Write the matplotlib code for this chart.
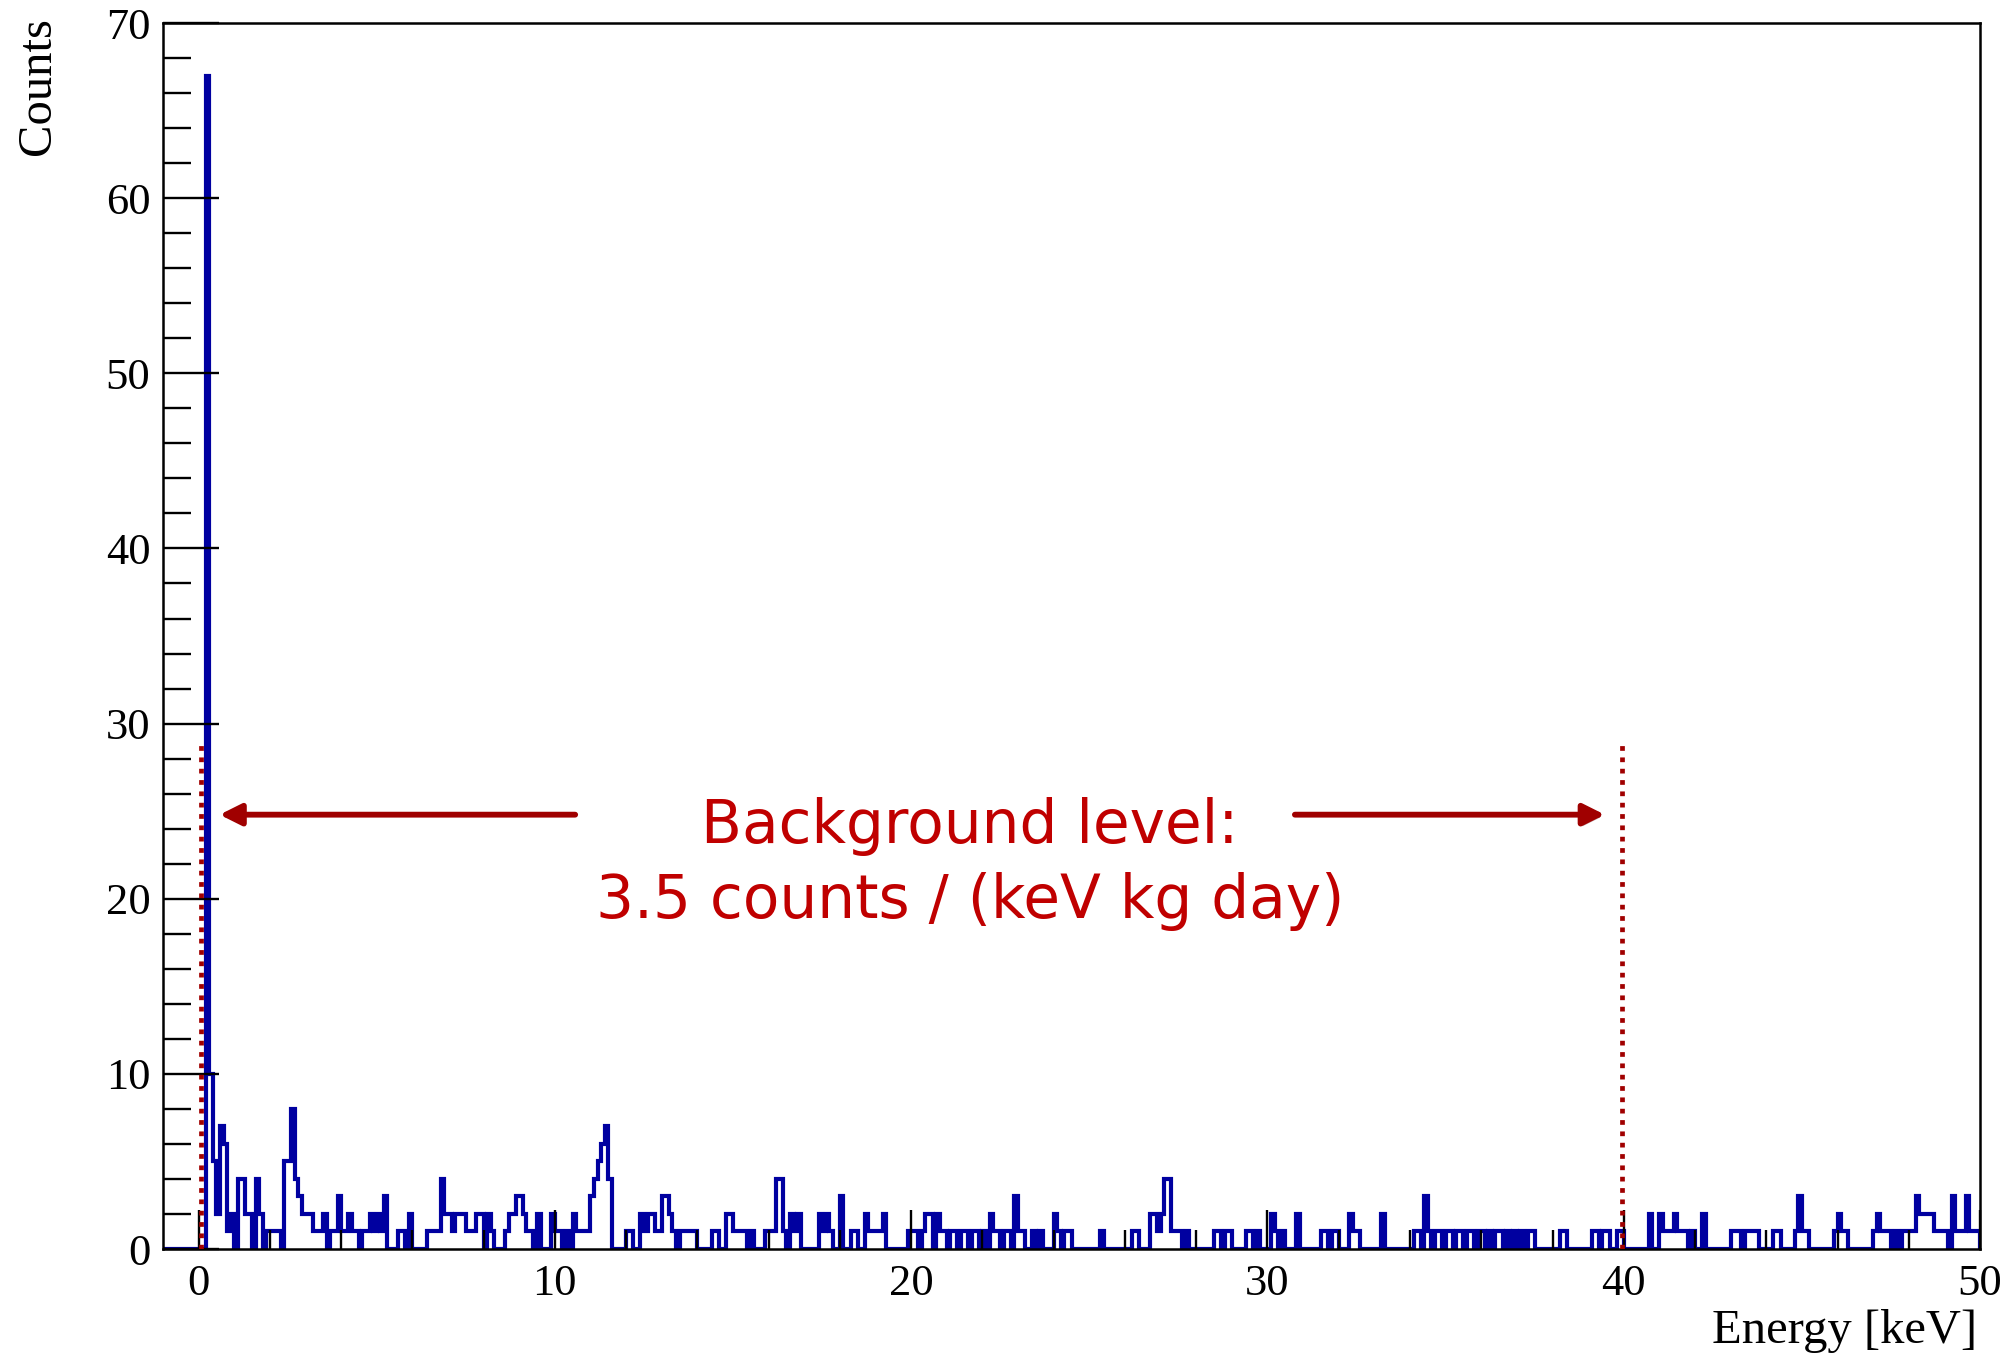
import numpy as np
import matplotlib.pyplot as plt
from matplotlib.ticker import MultipleLocator
import matplotlib.patheffects as pe

# counts per 0.1 keV bin, one list per 10 keV
counts_0_10 = [
    0, 0, 67, 10, 5, 2, 7, 6, 1, 2,
    0, 4, 4, 2, 2, 0, 4, 2, 0, 1,
    1, 1, 1, 0, 5, 5, 8, 4, 3, 2,
    2, 2, 1, 1, 1, 2, 0, 1, 1, 3,
    1, 1, 2, 1, 1, 0, 1, 1, 2, 1,
    2, 1, 3, 0, 0, 0, 1, 1, 0, 2,
    0, 0, 0, 0, 1, 1, 1, 1, 4, 2,
    2, 1, 2, 2, 2, 1, 1, 1, 2, 2,
    0, 2, 1, 0, 0, 0, 1, 2, 2, 3,
    3, 2, 1, 1, 0, 2, 0, 0, 0, 2,
]
counts_10_20 = [
    1, 1, 0, 1, 0, 2, 1, 1, 1, 1,
    3, 4, 5, 6, 7, 4, 0, 0, 0, 0,
    1, 1, 0, 0, 2, 1, 2, 2, 1, 1,
    3, 3, 2, 1, 0, 1, 1, 1, 1, 1,
    0, 0, 0, 0, 1, 1, 0, 0, 2, 2,
    1, 1, 1, 1, 0, 1, 0, 0, 0, 1,
    1, 1, 4, 4, 1, 0, 2, 1, 2, 0,
    0, 0, 0, 0, 2, 1, 2, 1, 0, 0,
    3, 0, 0, 1, 1, 0, 0, 2, 1, 1,
    1, 1, 2, 0, 0, 0, 0, 0, 0, 1,
]
counts_20_30 = [
    1, 1, 0, 1, 2, 2, 0, 2, 1, 1,
    0, 1, 1, 0, 1, 1, 0, 1, 1, 0,
    1, 0, 2, 1, 1, 0, 1, 1, 0, 3,
    1, 1, 0, 0, 1, 0, 1, 0, 0, 0,
    2, 1, 0, 1, 1, 0, 0, 0, 0, 0,
    0, 0, 0, 1, 0, 0, 0, 0, 0, 0,
    0, 0, 1, 1, 0, 0, 0, 2, 2, 1,
    2, 4, 4, 1, 1, 1, 0, 1, 0, 0,
    0, 0, 0, 0, 0, 1, 1, 0, 1, 1,
    0, 0, 0, 0, 1, 1, 0, 1, 0, 0,
]
counts_30_40 = [
    0, 2, 1, 0, 1, 0, 0, 0, 2, 0,
    0, 0, 0, 0, 0, 1, 1, 0, 1, 1,
    0, 0, 0, 2, 1, 1, 0, 0, 0, 0,
    0, 0, 2, 0, 0, 0, 0, 0, 0, 0,
    0, 1, 1, 0, 3, 1, 0, 1, 1, 0,
    1, 1, 0, 1, 1, 0, 1, 1, 0, 1,
    1, 0, 1, 0, 1, 1, 0, 1, 0, 1,
    0, 1, 0, 1, 1, 0, 0, 0, 0, 0,
    0, 0, 1, 1, 0, 0, 0, 0, 0, 0,
    0, 1, 1, 0, 1, 1, 0, 0, 1, 1,
]
counts_40_50 = [
    0, 0, 0, 0, 0, 0, 0, 2, 0, 0,
    2, 1, 1, 1, 2, 1, 1, 1, 0, 1,
    0, 0, 2, 0, 0, 0, 0, 0, 0, 0,
    1, 1, 1, 0, 1, 1, 1, 1, 0, 0,
    0, 0, 1, 1, 0, 0, 0, 0, 1, 3,
    1, 1, 0, 0, 0, 0, 0, 0, 0, 1,
    2, 1, 1, 0, 0, 0, 0, 0, 0, 0,
    1, 2, 1, 1, 1, 0, 1, 0, 1, 1,
    1, 1, 3, 2, 2, 2, 2, 1, 1, 1,
    1, 0, 3, 1, 1, 1, 3, 1, 1, 1,
]

bin_width = 0.1
x_min, x_max = -1, 50
counts = np.array([0] * 10 + counts_0_10 + counts_10_20 + counts_20_30
                  + counts_30_40 + counts_40_50)
edges = np.round(x_min + bin_width * np.arange(len(counts) + 1), 2)

window = (0.06, 39.94)       # keV, dotted markers
window_top = 29
bkg_text = 'Background level:\n3.5 counts / (keV kg day)'

red = '#a00000'

fig = plt.figure(figsize=(20.09, 13.56), dpi=100)
ax = fig.add_axes([0.0811, 0.0789, 0.9045, 0.9041])

ax.stairs(counts, edges, color='#0000a0', lw=3.0, baseline=0, zorder=1)

ax.set_xlim(x_min, x_max)
ax.set_ylim(0, 70)
ax.set_axisbelow(False)
for s in ax.spines.values():
    s.set_linewidth(1.8)
    s.set_zorder(3)

ax.xaxis.set_major_locator(MultipleLocator(10))
ax.xaxis.set_minor_locator(MultipleLocator(2))
ax.yaxis.set_major_locator(MultipleLocator(10))
ax.yaxis.set_minor_locator(MultipleLocator(2))
ax.tick_params(axis='x', which='major', direction='in', length=28, width=1.7,
               pad=11, labelsize=32)
ax.tick_params(axis='x', which='minor', direction='in', length=14, width=1.7)
ax.tick_params(axis='y', which='major', direction='in', length=40, width=1.7,
               pad=9, labelsize=32)
ax.tick_params(axis='y', which='minor', direction='in', length=20, width=1.7)
for lab in ax.get_xticklabels() + ax.get_yticklabels():
    lab.set_family('Liberation Serif')

fig.text(38 / 2009, 1 - 17 / 1356, 'Counts', rotation=90, ha='center', va='top',
         family='Liberation Serif', fontsize=35)
fig.text(1977 / 2009, 1 - 1331 / 1356, 'Energy [keV]', ha='right', va='center',
         family='Liberation Serif', fontsize=35)

# window markers
for xv in window:
    ax.plot([xv, xv], [0, window_top], color=red, lw=3.4,
            linestyle=(0, (1, 1.4)), dash_capstyle='butt', zorder=4)

shadow = [pe.withSimplePatchShadow(offset=(1.5, -2), alpha=0.25)]
arrow_kw = dict(arrowstyle='-|>,head_length=0.4,head_width=0.2', color=red,
                lw=4.2, mutation_scale=32, shrinkA=0, shrinkB=0,
                path_effects=shadow)
ax.annotate('', xy=(0.59, 24.8), xytext=(10.57, 24.8), arrowprops=arrow_kw, zorder=5)
ax.annotate('', xy=(39.47, 24.8), xytext=(30.77, 24.8), arrowprops=arrow_kw, zorder=5)

ax.text(21.65, 22.0, bkg_text, ha='center', va='center', color='#c00000',
        fontsize=43, family='DejaVu Sans', linespacing=1.35, zorder=5)

fig.savefig('out.png', dpi=100)
